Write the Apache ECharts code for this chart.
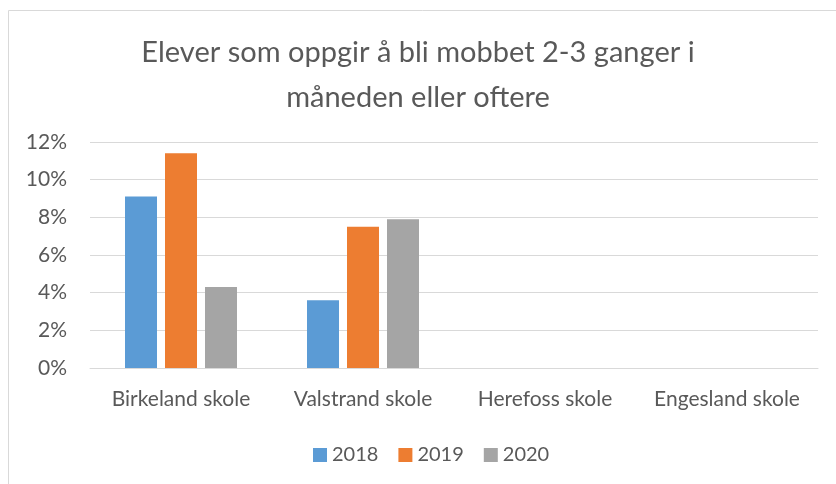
<!DOCTYPE html>
<html>
<head>
<meta charset="utf-8">
<script src="https://cdn.jsdelivr.net/npm/echarts@6/dist/echarts.min.js"></script>
<style>
  html, body { margin: 0; padding: 0; background: #fff; }
  #chart { width: 836px; height: 484px; }
</style>
</head>
<body>
<div id="chart"></div>
<script>
// data (percent)
var schools = ['Birkeland skole', 'Valstrand skole', 'Herefoss skole', 'Engesland skole'];
var years = ['2018', '2019', '2020'];
var v2018 = [9.1, 3.6, null, null];
var v2019 = [11.4, 7.5, null, null];
var v2020 = [4.3, 7.9, null, null];
var colors = ['#5b9bd5', '#ed7d31', '#a5a5a5'];

var chart = echarts.init(document.getElementById('chart'));
var font = 'Lato, "Open Sans", sans-serif';

var option = {
    textStyle: { fontFamily: font },
    graphic: [{
        type: 'rect',
        shape: { x: 8.5, y: 10.5, width: 900, height: 600 },
        style: { fill: 'none', stroke: '#d9d9d9', lineWidth: 1 },
        silent: true
    }],
    title: {
        text: 'Elever som oppgir å bli mobbet 2-3 ganger i\nmåneden eller oftere',
        left: 'center',
        top: 25,
        textStyle: {
            fontFamily: font,
            fontWeight: 'normal',
            fontSize: 29,
            lineHeight: 45,
            color: '#595959'
        }
    },
    legend: {
        data: years,
        top: 440,
        left: 308,
        itemWidth: 14,
        itemHeight: 14,
        itemGap: 20,
        icon: 'rect',
        textStyle: { fontSize: 20, color: '#595959', fontFamily: font }
    },
    grid: {
        left: 90,
        right: 18,
        top: 142,
        bottom: 116
    },
    xAxis: {
        type: 'category',
        data: schools,
        axisLine: { lineStyle: { color: '#d9d9d9', width: 1 } },
        axisTick: { show: false },
        axisLabel: { interval: 0, hideOverlap: false, fontSize: 21, color: '#595959', margin: 21 }
    },
    yAxis: {
        type: 'value',
        min: 0,
        max: 12,
        interval: 2,
        axisLine: { show: false },
        axisTick: { show: false },
        splitLine: { lineStyle: { color: '#d9d9d9', width: 1 } },
        axisLabel: { formatter: '{value}%', fontSize: 21, color: '#595959', margin: 23 }
    },
    series: [
        { name: years[0], type: 'bar', data: v2018, itemStyle: { color: colors[0] }, barWidth: 32, barGap: '25%' },
        { name: years[1], type: 'bar', data: v2019, itemStyle: { color: colors[1] }, barWidth: 32, barGap: '25%' },
        { name: years[2], type: 'bar', data: v2020, itemStyle: { color: colors[2] }, barWidth: 32, barGap: '25%' }
    ]
};

chart.setOption(option);
</script>
</body>
</html>
